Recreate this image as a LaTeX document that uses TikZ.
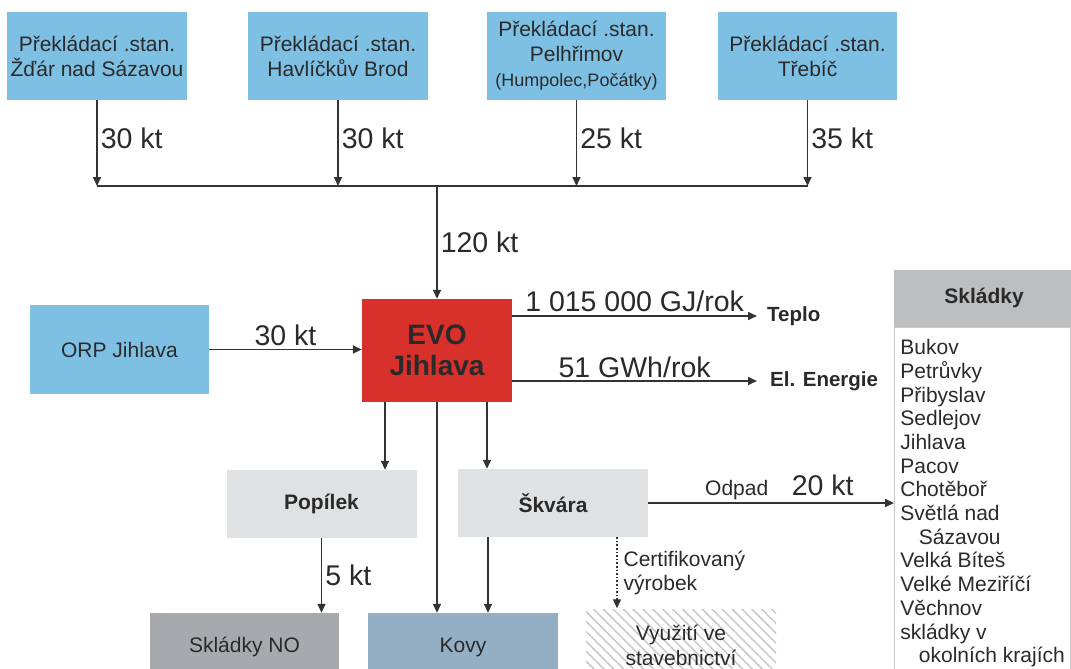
\documentclass[tikz,border=0pt]{standalone}
\usepackage{fontspec}
\setmainfont{Liberation Sans}
\usepackage{tikz}
\usetikzlibrary{arrows.meta,patterns.meta}
\definecolor{stanblue}{HTML}{7EC0E3}
\definecolor{evored}{HTML}{D8302A}
\definecolor{ashgray}{HTML}{E0E1E2}
\definecolor{nogray}{HTML}{A7A9AC}
\definecolor{kovyblue}{HTML}{94AFC3}
\definecolor{headgray}{HTML}{BDBEC0}
\definecolor{hatchgray}{HTML}{C8C8C8}
\definecolor{linedark}{HTML}{333333}
\definecolor{textdark}{HTML}{2A2A2A}
\tikzstyle{Station}=[rectangle, fill=stanblue, minimum width=180, minimum height=87, inner sep=0, align=center, text=textdark, font=\fontsize{21}{25}\selectfont]
\tikzstyle{Block}=[rectangle, minimum width=190, minimum height=68, inner sep=0, align=center, text=textdark, font=\fontsize{21}{25}\selectfont]
\tikzstyle{Flow}=[draw=linedark, line width=1.6, -{Triangle[length=9pt,width=8pt]}]
\tikzstyle{Qty}=[text=textdark, font=\fontsize{28.5}{32}\selectfont]
\tikzstyle{Small}=[text=textdark, font=\fontsize{21}{24}\selectfont]
\tikzstyle{Output}=[text=textdark, font=\fontsize{20.5}{24}\selectfont\bfseries, inner ysep=2]

\begin{document}
\begin{tikzpicture}[x=1pt,y=-1pt]
    \useasboundingbox (0,0) rectangle (1071,669);
    \clip (0,0) rectangle (1071,669);

    % transfer stations
    \path
    (97,56) node[Station] (st1) {Překládací .stan.\\Žďár nad Sázavou}
    (338,56) node[Station] (st2) {Překládací .stan.\\Havlíčkův Brod}
    (576.5,56) node[Station, minimum width=179] (st3) {Překládací .stan.\\Pelhřimov\\{\fontsize{18}{25}\selectfont(Humpolec,Počátky)}}
    (807.5,56) node[Station, minimum width=179] (st4) {Překládací .stan.\\Třebíč};

    \coordinate (busL) at (97,186);
    \coordinate (busR) at (807.5,186);
    \coordinate (busM) at (437,186);

    \path
    (437,350.5) node[Block, fill=evored, minimum width=150, minimum height=103, font=\fontsize{28}{31}\selectfont\bfseries] (evo) {EVO\\Jihlava}
    (119.5,349.5) node[Block, fill=stanblue, minimum width=179, minimum height=89] (orp) {ORP Jihlava}
    (321.5,504) node[Block, fill=ashgray, font=\fontsize{21}{25}\selectfont\bfseries] (popilek) {Popílek}
    (553,503) node[Block, fill=ashgray, font=\fontsize{21}{25}\selectfont\bfseries] (skvara) {Škvára}
    (244.5,647) node[Block, fill=nogray, minimum width=189] (sklNO) {Skládky NO}
    (463,647) node[Block, fill=kovyblue] (kovy) {Kovy}
    (681,645) node[Block, minimum height=72, pattern={Lines[angle=-45,distance=7pt,line width=1.5pt]}, pattern color=hatchgray] (vyuziti) {Využití ve\\stavebnictví};

    % outputs
    \path
    (757,316) node[Output, anchor=west, inner xsep=10] (teplo) {Teplo}
    (757,381) node[Output, anchor=west, inner xsep=13] (elen) {El. Energie};

    % landfills
    \path (984,298.25) node[rectangle, fill=headgray, minimum width=180, minimum height=57.5, text=textdark, font=\fontsize{21}{25}\selectfont\bfseries] (sklhead) {Skládky};
    \path (894,327) node[anchor=north west, draw=hatchgray, line width=0.8, minimum width=175, inner xsep=6, inner ysep=12, align=left, text=textdark, font=\fontsize{21}{23.7}\selectfont] (skl) {Bukov\\Petrůvky\\Přibyslav\\Sedlejov\\Jihlava\\Pacov\\Chotěboř\\Světlá nad\\\hspace*{18.5pt}Sázavou\\Velká Bíteš\\Velké Meziříčí\\Věchnov\\skládky v\\\hspace*{18.5pt}okolních krajích};

    \draw[Flow] (st1.south) -- (st1.south |- busL) node[Qty, right, pos=0.45, inner xsep=3] {30 kt};
    \draw[Flow] (st2.south) -- (st2.south |- busL) node[Qty, right, pos=0.45, inner xsep=3] {30 kt};
    \draw[Flow] (st3.south) -- (st3.south |- busL) node[Qty, right, pos=0.45, inner xsep=3] {25 kt};
    \draw[Flow] (st4.south) -- (st4.south |- busL) node[Qty, right, pos=0.45, inner xsep=3] {35 kt};
    \draw[draw=linedark, line width=1.6] (busL) -- (busR);
    \draw[Flow] (busM) -- (evo.north) node[Qty, right, midway, inner xsep=3] {120 kt};

    \draw[Flow] (orp.east) -- (orp.east -| evo.west) node[Qty, above, midway] {30 kt};
    \draw[Flow] (evo.east |- teplo.west) -- (teplo.west) node[Qty, midway, anchor=base, yshift=5pt] {1 015 000 GJ/rok};
    \draw[Flow] (evo.east |- elen.west) -- (elen.west) node[Qty, midway, anchor=base, yshift=3.5pt] {51 GWh/rok};

    \draw[Flow] ([xshift=-52pt]evo.south) -- ([xshift=-52pt]evo.south |- popilek.north);
    \draw[Flow] (evo.south) -- (evo.south |- kovy.north);
    \draw[Flow] ([xshift=50pt]evo.south) -- ([xshift=50pt]evo.south |- skvara.north);
    \draw[Flow] (popilek.south) -- (popilek.south |- sklNO.north) node[Qty, right, midway, inner xsep=3] {5 kt};
    \draw[Flow] ([xshift=-65pt]skvara.south) -- ([xshift=-65pt]skvara.south |- kovy.north);
    \draw[Flow, dotted, line width=1.3] ([xshift=64pt]skvara.south) -- ([xshift=64pt]skvara.south |- vyuziti.north) node[Small, right, midway, align=left, inner xsep=6] {Certifikovaný\\výrobek};
    \draw[Flow] (skvara.east) -- (skvara.east -| skl.west) node[Small, pos=0.36, anchor=base, yshift=8pt] {Odpad} node[Qty, pos=0.71, anchor=base, yshift=8pt] {20 kt};
\end{tikzpicture}
\end{document}
